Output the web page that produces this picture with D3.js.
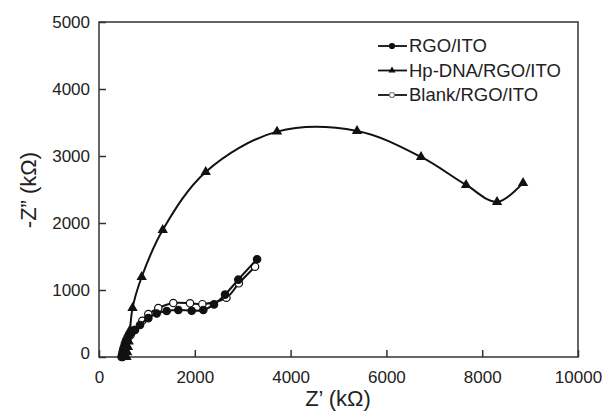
<!DOCTYPE html>
<html>
<head>
<meta charset="utf-8">
<script src="https://cdn.jsdelivr.net/npm/d3@7"></script>
<style>
  body{margin:0;background:#fff;}
  text{font-family:"Liberation Sans",Arial,sans-serif;fill:#222;}
</style>
</head>
<body>
<svg id="chart" width="602" height="412"></svg>
<script>
// series (kOhm)
var rgoX=[490,500,510,520,535,550,570,595,625,680,752,856,1030,1204,1413,1656,1935,2178,2401,2631,2909,3300];
var rgoY=[0,30,65,100,140,180,225,270,320,370,403,478,580,650,687,702,690,702,785,931,1155,1460];
var hpX=[575,590,605,620,647,700,891,1330,2228,3717,5387,6723,7663,8310,8853];
var hpY=[0,70,150,230,400,730,1194,1896,2762,3364,3374,2986,2568,2314,2598];
var blankX=[470,480,490,505,520,540,565,600,660,737,904,1030,1238,1551,1900,2157,2660,2920,3257];
var blankY=[0,30,70,110,150,200,250,300,330,403,540,640,730,806,801,788,885,1100,1348];
var xTicks=[0,2000,4000,6000,8000,10000];
var yTicks=[0,1000,2000,3000,4000,5000];
var seriesNames=["RGO/ITO","Hp-DNA/RGO/ITO","Blank/RGO/ITO"];

var svg=d3.select("#chart");
var x=d3.scaleLinear().domain([0,10000]).range([99,578]);
var y=d3.scaleLinear().domain([0,5000]).range([357,22]);

// frame
svg.append("rect")
  .attr("x",99).attr("y",22).attr("width",479).attr("height",335)
  .attr("fill","none").attr("stroke","#333").attr("stroke-width",1.5);

// axes, ticks inward
var xAxis=svg.append("g").attr("transform","translate(0,357)")
  .call(d3.axisBottom(x).tickValues(xTicks).tickSize(-7).tickPadding(14).tickFormat(d3.format("d")));
var yAxis=svg.append("g").attr("transform","translate(99,0)")
  .call(d3.axisLeft(y).tickValues(yTicks).tickSize(-7).tickPadding(9).tickFormat(d3.format("d")));
[xAxis,yAxis].forEach(function(a){
  a.select(".domain").remove();
  a.selectAll("line").attr("stroke","#333").attr("stroke-width",1.5);
  a.selectAll("text").style("font-size","17px").style("font-family","Liberation Sans, Arial, sans-serif").attr("fill","#222");
});
yAxis.selectAll(".tick").filter(function(d){return d===0;}).select("text").attr("dy","0.1em");

// axis titles
svg.append("text").attr("x",338).attr("y",406).attr("text-anchor","middle")
  .style("font-size","22px").text("Z\u2019 (k\u03A9)");
svg.append("text").attr("transform","translate(36,190) rotate(-90)").attr("text-anchor","middle")
  .style("font-size","22px").text("-Z\u201D (k\u03A9)");

var line=d3.line().curve(d3.curveCatmullRom.alpha(0.5))
  .x(function(d){return x(d[0]);}).y(function(d){return y(d[1]);});

function pts(xs,ys){return xs.map(function(v,i){return [v,ys[i]];});}
var series=[
  {name:seriesNames[0],data:pts(rgoX,rgoY),marker:"filled"},
  {name:seriesNames[1],data:pts(hpX,hpY),marker:"tri"},
  {name:seriesNames[2],data:pts(blankX,blankY),marker:"open"}
];

var plot=svg.append("g");

function drawMarkers(g,s,data,r,col){
  col=col||"#111";
  if(s.marker==="tri"){
    g.selectAll("path.m").data(data).enter().append("path").attr("class","m")
      .attr("d",d3.symbol().type(d3.symbolTriangle).size(r*r*3.4))
      .attr("transform",function(d){return "translate("+x(d[0])+","+y(d[1])+")";})
      .attr("fill",col);
  }else{
    g.selectAll("circle.m").data(data).enter().append("circle").attr("class","m")
      .attr("cx",function(d){return x(d[0]);}).attr("cy",function(d){return y(d[1]);})
      .attr("r",r)
      .attr("fill",s.marker==="filled"?col:"#fff")
      .attr("stroke",col).attr("stroke-width",1.2);
  }
}

// draw order: blank, rgo, hp
[series[2],series[0],series[1]].forEach(function(s){
  var g=plot.append("g");
  g.append("path").datum(s.data).attr("d",line)
    .attr("fill","none").attr("stroke","#111").attr("stroke-width",2);
  drawMarkers(g,s,s.data,3.7);
});

// legend
var leg=svg.append("g");
series.forEach(function(s,i){
  var cy=46+i*24.5;
  var g=leg.append("g");
  g.append("line").attr("x1",378).attr("x2",407).attr("y1",cy).attr("y2",cy)
    .attr("stroke","#111").attr("stroke-width",1.8);
  drawMarkers(g,{marker:s.marker},[[x.invert(392),y.invert(cy)]],2.5,s.marker==="open"?"#777":"#111");
  g.append("text").attr("x",409).attr("y",cy).attr("dy","0.35em")
    .style("font-size","18.5px").text(s.name);
});
</script>
</body>
</html>
